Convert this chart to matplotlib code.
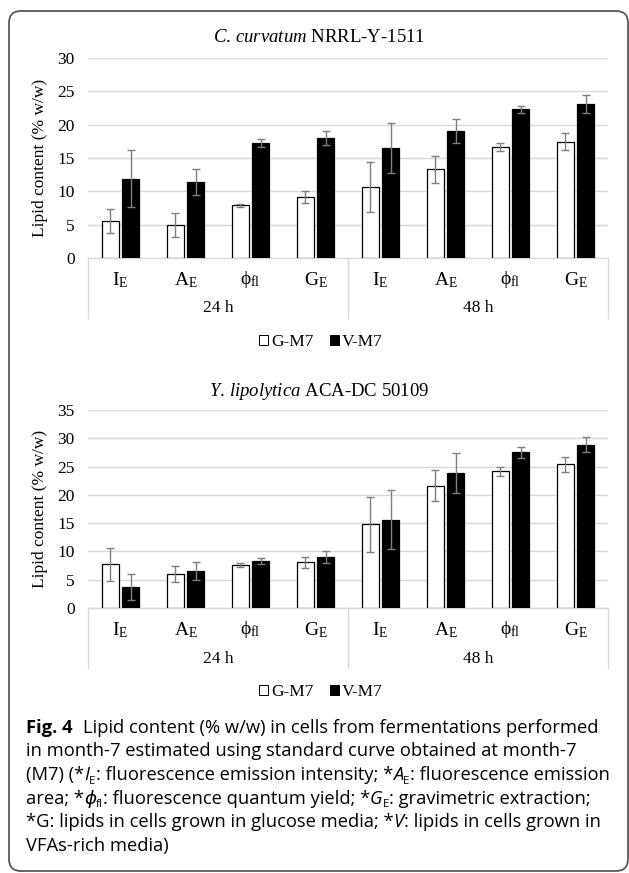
import matplotlib
matplotlib.use('Agg')
import matplotlib.pyplot as plt
from matplotlib.patches import Patch, FancyBboxPatch
from matplotlib.transforms import blended_transform_factory
import numpy as np

# ---------------- data ----------------
categories = [r'$\mathrm{I_E}$', r'$\mathrm{A_E}$', r'$\mathrm{ϕ_{fl}}$', r'$\mathrm{G_E}$',
              r'$\mathrm{I_E}$', r'$\mathrm{A_E}$', r'$\mathrm{ϕ_{fl}}$', r'$\mathrm{G_E}$']
groups = ['24 h', '48 h']
series_names = ['G-M7', 'V-M7']

titles = [r'$\mathit{C.\,curvatum}$ NRRL-Y-1511',
          r'$\mathit{Y.\,lipolytica}$ ACA-DC 50109']

cc_g = [5.6, 5.0, 7.9, 9.15, 10.65, 13.3, 16.6, 17.45]
cc_g_err = [1.8, 1.8, 0.2, 0.95, 3.8, 2.05, 0.6, 1.25]
cc_v = [11.9, 11.35, 17.2, 18.0, 16.5, 19.05, 22.3, 23.1]
cc_v_err = [4.3, 1.95, 0.6, 1.05, 3.7, 1.75, 0.55, 1.35]

yl_g = [7.7, 6.0, 7.6, 8.1, 14.8, 21.6, 24.2, 25.4]
yl_g_err = [2.95, 1.45, 0.35, 0.95, 4.85, 2.75, 0.8, 1.3]
yl_v = [3.75, 6.55, 8.25, 9.0, 15.6, 23.85, 27.5, 28.9]
yl_v_err = [2.25, 1.65, 0.55, 1.05, 5.25, 3.6, 0.95, 1.3]

ylabel = 'Lipid content (% w/w)'

caption_lines = [
    [('Fig. 4', 'b'), (None, 'gap'), ('Lipid content (% w/w) in cells from fermentations performed', 'r')],
    [('in month-7 estimated using standard curve obtained at month-7', 'r')],
    [('(M7) (*', 'r'), ('I', 'i'), ('E', 's'), (': fluorescence emission intensity; *', 'r'),
     ('A', 'i'), ('E', 's'), (': fluorescence emission', 'r')],
    [('area; *', 'r'), ('ϕ', 'i'), ('fl', 's'), (': fluorescence quantum yield; *', 'r'),
     ('G', 'i'), ('E', 's'), (': gravimetric extraction;', 'r')],
    [('*G: lipids in cells grown in glucose media; *', 'r'), ('V', 'i'), (': lipids in cells grown in', 'r')],
    [('VFAs-rich media)', 'r')],
]

# ---------------- style ----------------
plt.rcParams['font.family'] = ['Liberation Serif', 'DejaVu Serif']
plt.rcParams['mathtext.fontset'] = 'custom'
plt.rcParams['mathtext.rm'] = 'Liberation Serif'
plt.rcParams['mathtext.it'] = 'Liberation Serif:italic'
plt.rcParams['mathtext.bf'] = 'Liberation Serif:bold'

W, H = 629, 873
fig = plt.figure(figsize=(W / 100, H / 100), dpi=100)
fig.patch.set_facecolor('white')

GRID = '#d9d9d9'
ERR = '#7f7f7f'


def fpos(left, top, width, height):
    return [left / W, 1 - (top + height) / H, width / W, height / H]


def panel(ax_rect, g, gerr, v, verr, ymax, title, title_y, legend_y, lab_dy, grp_dy):
    ax = fig.add_axes(fpos(*ax_rect))
    axh = ax_rect[3]
    x = np.arange(len(g))
    off, bw = 0.155, 0.26
    ax.bar(x - off, g, bw, color='white', edgecolor='black', linewidth=0.9, zorder=3)
    ax.bar(x + off, v, bw, color='black', edgecolor='black', linewidth=0.9, zorder=3)
    ax.errorbar(x - off, g, yerr=gerr, fmt='none', ecolor=ERR, elinewidth=1,
                capsize=3, capthick=1, zorder=4)
    ax.errorbar(x + off, v, yerr=verr, fmt='none', ecolor=ERR, elinewidth=1,
                capsize=3, capthick=1, zorder=4)
    ax.set_xlim(-0.5, len(g) - 0.5)
    ax.set_ylim(0, ymax)
    ax.set_yticks(range(0, ymax + 1, 5))
    ax.set_xticks([])
    ax.grid(axis='y', color=GRID, linewidth=1, zorder=0)
    ax.set_axisbelow(True)
    for s in ['top', 'right', 'left']:
        ax.spines[s].set_visible(False)
    ax.spines['bottom'].set_color(GRID)
    ax.spines['bottom'].set_linewidth(1)
    ax.tick_params(axis='y', length=0, pad=9.5, labelsize=12.5)

    trans = blended_transform_factory(ax.transData, ax.transAxes)
    for i, c in enumerate(categories):
        ax.text(i, -lab_dy / axh, c, ha='center', va='center', fontsize=14, transform=trans)
    n = len(categories) // len(groups)
    for j, gname in enumerate(groups):
        ax.text(j * n + (n - 1) / 2, -grp_dy / axh, gname, ha='center', va='center',
                fontsize=12.5, transform=trans)
    for xv in [-0.5, n - 0.5, 2 * n - 0.5]:
        ax.plot([xv, xv], [0, -60 / axh], transform=trans, color=GRID, lw=1, clip_on=False)

    fig.text(40 / W, 1 - (ax_rect[1] + axh / 2) / H, ylabel, rotation=90,
             ha='center', va='center', fontsize=12.5)
    fig.text(319 / W, 1 - title_y / H, title, ha='center', va='center', fontsize=13.5)
    handles = [Patch(facecolor='white', edgecolor='black', linewidth=0.7, label=series_names[0]),
               Patch(facecolor='black', edgecolor='black', linewidth=0.7, label=series_names[1])]
    fig.legend(handles=handles, loc='center', bbox_to_anchor=(321 / W, 1 - legend_y / H),
               ncol=2, frameon=False, fontsize=12.5, handlelength=0.5, handleheight=0.5,
               handletextpad=0.15, columnspacing=1.0, borderpad=0, borderaxespad=0)
    return ax


panel((88, 58, 520, 200), cc_g, cc_g_err, cc_v, cc_v_err, 30, titles[0], 38, 342, 22, 50)
panel((88, 410, 520, 198), yl_g, yl_g_err, yl_v, yl_v_err, 35, titles[1], 392, 692, 22, 51)

# ---------------- caption ----------------
CAP_FONT = ['Open Sans', 'DejaVu Sans']
renderer = fig.canvas.get_renderer()


def draw_runs(runs, x_px, base_px, size, keep=True):
    x = x_px
    made = []
    for text, style in runs:
        if style == 'gap':
            x += 0.55 * size * 100 / 72
            continue
        kw = dict(fontsize=size, family=CAP_FONT)
        dy = 0
        if style == 'b':
            kw['fontweight'] = 'bold'
        elif style == 'i':
            kw['style'] = 'italic'
        elif style == 's':
            kw['fontsize'] = size * 0.62
            dy = 3.5
        t = fig.text(x / W, 1 - (base_px + dy) / H, text, ha='left', va='baseline', **kw)
        bb = t.get_window_extent(renderer)
        x += bb.width
        made.append(t)
    if not keep:
        for t in made:
            t.remove()
    return x - x_px


base_size = 12
w1 = draw_runs(caption_lines[0], 0, 0, base_size, keep=False)
w3 = draw_runs(caption_lines[2], 0, 0, base_size, keep=False)
cap_size = base_size * 0.5 * (579 / w1 + 574 / w3)
for k, line in enumerate(caption_lines):
    draw_runs(line, 26, 733 + k * 23.5, cap_size)

# ---------------- border ----------------
border = FancyBboxPatch((9 / 100, 2 / 100), 619 / 100, 860 / 100,
                        boxstyle='round,pad=0,rounding_size=0.12',
                        transform=fig.dpi_scale_trans, facecolor='none',
                        edgecolor='#595959', linewidth=1.3)
fig.patches.append(border)

fig.savefig('out.png', dpi=100)
